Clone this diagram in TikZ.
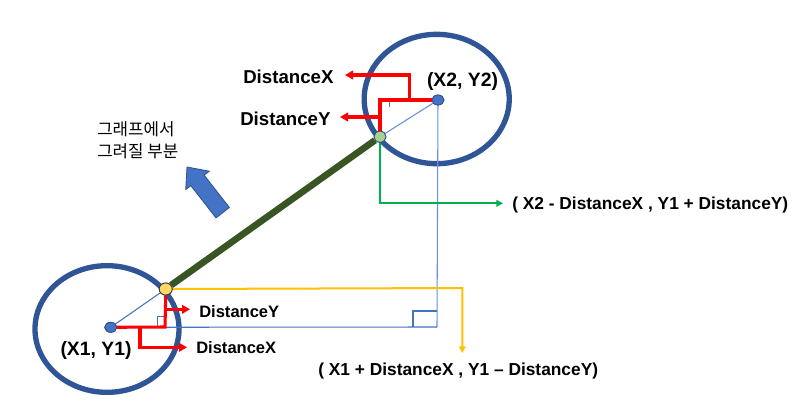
\documentclass[tikz,border=0pt]{standalone}
\usepackage{fontspec}
\setmainfont{Liberation Sans}
\newfontfamily\krfont{Noto Sans CJK KR}
\usetikzlibrary{arrows.meta,shapes.geometric}
\definecolor{ringblue}{HTML}{2F5597}
\definecolor{lineblue}{HTML}{4472C4}
\definecolor{lightblue}{HTML}{6A8FDA}
\definecolor{darkgreen}{HTML}{375623}
\definecolor{goldline}{HTML}{FFC000}
\definecolor{greenline}{HTML}{00B050}
\definecolor{dotedge}{HTML}{2F528F}
\definecolor{dotyellow}{HTML}{FFD966}
\definecolor{dotgreen}{HTML}{A9D18E}
\tikzset{
  ring/.style={draw=ringblue, line width=4pt},
  thinblue/.style={draw=lineblue, line width=0.8pt},
  thinlight/.style={draw=lightblue, line width=0.8pt},
  redline/.style={draw=red, line width=2.3pt},
  redarrow/.style={redline, -{Triangle[length=6pt,width=6.5pt]}},
  goldarrow/.style={draw=goldline, line width=1.5pt, -{Triangle[length=5pt,width=5pt]}},
  greenarrow/.style={draw=greenline, line width=1.5pt, -{Triangle[length=5pt,width=5pt]}},
  dot/.style={ellipse, draw=dotedge, line width=0.6pt, inner sep=0pt},
  bigtag/.style={font=\bfseries\fontsize{14}{16}\selectfont, inner sep=0pt, anchor=west},
  smalltag/.style={font=\bfseries\fontsize{12.4}{14}\selectfont, inner sep=0pt, anchor=west},
  coordtag/.style={font=\bfseries\fontsize{13}{15}\selectfont, inner sep=0pt, anchor=west},
  pointtag/.style={font=\bfseries\fontsize{14.5}{16}\selectfont, inner sep=0pt},
}
\begin{document}
\begin{tikzpicture}[x=0.75pt,y=-0.75pt]
\useasboundingbox (0,0) rectangle (803,411);
\fill[white] (0,0) rectangle (803,411);

% circles
\draw[ring] (436.7,99) ellipse [x radius=54.4pt, y radius=48.5pt];
\draw[ring] (107,329) ellipse [x radius=54pt, y radius=47.5pt];

% points (dots)
\node[dot, fill=lineblue, minimum width=9pt, minimum height=7.5pt] (p1) at (110.7,327.3) {};
\node[dot, fill=lineblue, minimum width=9pt, minimum height=7.5pt] (p2) at (438,100) {};
\node[dot, fill=dotyellow, draw=black!80, minimum width=9.75pt, minimum height=9pt] (py) at (165.7,289) {};
\node[dot, fill=dotgreen, minimum width=9pt, minimum height=8.3pt] (pg) at (380,136.7) {};

% helper coordinates
\coordinate (corner) at (437,327);
\coordinate (redlow) at (165,327);
\coordinate (redup) at (380,100);
\coordinate (goldend) at (462.3,353);
\coordinate (greenend) at (503,203.3);
\coordinate (tipLY) at (190,309.3);
\coordinate (tipLX) at (187,347.3);
\coordinate (tipUX) at (345,75);
\coordinate (tipUY) at (340,117);

% thin construction lines
\draw[thinlight] (p2.center) -- (corner);
\draw[thinblue] (p1.center) -- (corner);
\draw[thinblue] (p1.center) -- (py.center);
\draw[thinlight] (p2.center) -- (pg.center);
\draw[thinblue] (413,327) -- (413,311) -- (437,311);
\draw[thinblue] (157.3,327) -- (157.3,316.7) -- (165,316.7);
\draw[thinblue] (389.3,100) -- (389.3,107);

% yellow and green leaders
\draw[goldarrow] (py.east) -- (462.3,288) -- (goldend);
\draw[greenarrow] (pg.south) -- (380,203.3) -- (greenend);

% thick dark green segment
\draw[draw=darkgreen, line width=5pt] (py) -- (pg);

% red brackets (lower)
\draw[redline] (p1.center) -- (redlow) -- (py.south);
\draw[redarrow] (165,309.3) -- (tipLY);
\draw[redarrow] (140,327) -- (140,347.3) -- (tipLX);
% red brackets (upper)
\draw[redline] (p2.center) -- (redup) -- (pg.north);
\draw[redarrow] (409.3,100) -- (409.3,75) -- (tipUX);
\draw[redarrow] (380,117) -- (tipUY);

% redraw dots on top
\node[dot, fill=lineblue, minimum width=9pt, minimum height=7.5pt] at (p1) {};
\node[dot, fill=lineblue, minimum width=9pt, minimum height=7.5pt] at (p2) {};
\node[dot, fill=dotyellow, draw=black!80, minimum width=9.75pt, minimum height=9pt] at (py) {};
\node[dot, fill=dotgreen, minimum width=9pt, minimum height=8.3pt] at (pg) {};

% blue block arrow
\filldraw[fill=lineblue, draw=dotedge, line width=0.6pt]
  (187,167) -- (209.3,171.2) -- (204.2,175.2) -- (229.4,207.5)
  -- (216.0,217.9) -- (190.8,185.6) -- (185.7,189.6) -- cycle;

% labels
\node[bigtag] (lUX) at (243,77) {DistanceX};
\node[bigtag] (lUY) at (240,119) {DistanceY};
\node[smalltag] (lLY) at (199,312) {DistanceY};
\node[smalltag] (lLX) at (196,348) {DistanceX};
\node[pointtag] (t2) at (462.5,81) {(X2, Y2)};
\node[pointtag] (t1) at (96,350) {(X1, Y1)};
\node[coordtag] (c2) at (512,205) {( X2 - DistanceX , Y1 + DistanceY)};
\node[coordtag] (c1) at (318,371) {( X1 + DistanceX , Y1 – DistanceY)};
\node[anchor=north west, inner sep=0pt, align=left,
      font=\krfont\fontsize{12.6}{16.5}\selectfont] (kr) at (97,121)
  {그래프에서\\그려질 부분};
\end{tikzpicture}
\end{document}
